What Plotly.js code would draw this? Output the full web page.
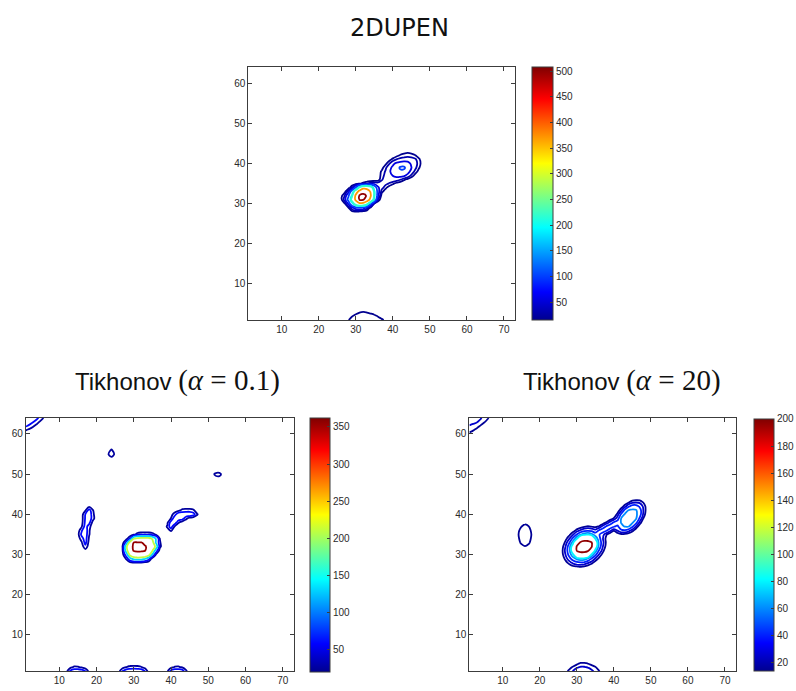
<!DOCTYPE html>
<html>
<head>
<meta charset="utf-8">
<script src="https://cdn.plot.ly/plotly-3.0.1.min.js"></script>
<style>
html, body { margin: 0; padding: 0; background: #fff; }
#chart { width: 796px; height: 691px; }
</style>
</head>
<body>
<div id="chart"></div>
<script>
// ---------------- shared axis data ----------------
const xTickVals = [10, 20, 30, 40, 50, 60, 70];
const yTickVals = [10, 20, 30, 40, 50, 60];
const gridXMax = 73;
const gridYMax = 64;

// ---------------- 2DUPEN (top) ----------------
const upenLevels = [15, 30, 55, 100, 190, 220, 370, 500];
const upenRange = [15, 508];
const upenBarTicks = [50, 100, 150, 200, 250, 300, 350, 400, 450, 500];
// main blob + second blob, x 25..49, rows y 27..44
const upenBlobX0 = 25, upenBlobY0 = 27;
const upenBlobRows = [
  [0,0,0,0,0,0,0,0,0,0,0,0,0,0,0,0,0,0,0,0,0,0,0,0,0],
  [0,0,0,2,10,12,10,6,2,0,0,0,0,0,0,0,0,0,0,0,0,0,0,0,0],
  [0,0,3,14,45,80,90,80,40,8,0,0,0,0,0,0,0,0,0,0,0,0,0,0,0],
  [0,2,12,60,160,280,345,330,250,110,12,0,0,0,0,0,0,0,0,0,0,0,0,0,0],
  [0,8,40,120,260,395,505,508,450,330,170,25,3,0,0,0,0,0,0,0,0,0,0,0,0],
  [0,8,31,90,208,400,512,515,495,380,200,60,5,0,0,0,0,0,0,0,0,0,0,0,0],
  [0,0,8,45,140,300,420,480,440,360,200,70,20,5,0,0,0,0,0,0,0,0,0,0,0],
  [0,0,0,5,31,110,240,330,330,280,150,60,38,20,6,0,0,0,0,0,0,0,0,0,0],
  [0,0,0,0,0,5,12,20,31,40,45,40,40,36,28,18,8,2,0,0,0,0,0,0,0],
  [0,0,0,0,0,0,0,0,0,0,0,5,28,38,42,44,40,31,18,8,0,0,0,0,0],
  [0,0,0,0,0,0,0,0,0,0,0,3,22,36,46,56,64,66,60,45,25,8,0,0,0],
  [0,0,0,0,0,0,0,0,0,0,0,5,18,32,50,66,80,92,88,68,45,25,8,0,0],
  [0,0,0,0,0,0,0,0,0,0,0,0,8,25,45,62,80,106,108,80,56,36,18,2,0],
  [0,0,0,0,0,0,0,0,0,0,0,0,0,10,28,48,62,70,72,66,50,38,24,5,0],
  [0,0,0,0,0,0,0,0,0,0,0,0,0,0,8,20,31,36,40,42,40,34,20,4,0],
  [0,0,0,0,0,0,0,0,0,0,0,0,0,0,0,3,10,18,22,24,22,17,6,0,0],
  [0,0,0,0,0,0,0,0,0,0,0,0,0,0,0,0,0,3,8,10,8,3,0,0,0],
  [0,0,0,0,0,0,0,0,0,0,0,0,0,0,0,0,0,0,0,0,0,0,0,0,0]
];
// weak feature on the bottom edge, x 26..39, rows y 1..4
const upenEdgeX0 = 26, upenEdgeY0 = 1;
const upenEdgeRows = [
  [0,5,14,24,28,29,29,28,26,24,20,18,12,0],
  [0,0,6,14,19,22,23,22,20,18,14,8,3,0],
  [0,0,0,0,10,14,16,14,12,9,5,0,0,0],
  [0,0,0,0,0,0,0,0,0,0,0,0,0,0]
];

// ---------------- Tikhonov alpha = 0.1 (bottom left) ----------------
const tik01Levels = [25, 60, 130, 210, 355];
const tik01Range = [20, 362];
const tik01BarTicks = [50, 100, 150, 200, 250, 300, 350];
const tik01CornerX0 = 1, tik01CornerY0 = 59;
const tik01CornerRows = [
  [0,0,0,0,0,0,0],
  [5,0,0,0,0,0,0],
  [28,15,3,0,0,0,0],
  [65,50,30,10,0,0,0],
  [90,80,62,40,15,0,0],
  [100,95,85,70,45,18,0]
];
const tik01DropX0 = 22, tik01DropY0 = 53;
const tik01DropRows = [
  [0,0,0,0,0],
  [0,3,15,3,0],
  [0,20,45,18,0],
  [0,5,30,5,0],
  [0,0,0,0,0]
];
const tik01DotX0 = 50, tik01DotY0 = 48;
const tik01DotRows = [
  [0,0,0,0,0,0],
  [0,0,10,12,0,0],
  [0,10,35,38,8,0],
  [0,0,0,0,0,0]
];
const tik01StemX0 = 14, tik01StemY0 = 30;
const tik01StemRows = [
  [0,0,0,0,0,0,0],
  [0,0,0,10,0,0,0],
  [0,0,5,50,3,0,0],
  [0,0,20,75,10,0,0],
  [0,3,45,80,20,0,0],
  [0,12,70,85,28,0,0],
  [0,5,55,90,30,0,0],
  [0,0,20,80,40,0,0],
  [0,0,10,70,75,12,0],
  [0,0,8,65,90,40,0],
  [0,0,5,62,95,35,0],
  [0,0,0,20,80,28,0],
  [0,0,0,0,15,8,0],
  [0,0,0,0,0,0,0]
];
const tik01CoreX0 = 26, tik01CoreY0 = 27;
const tik01CoreRows = [
  [0,0,0,0,0,0,0,0,0,0,0,0,0],
  [0,0,3,12,22,24,20,10,3,0,0,0,0],
  [0,0,30,110,160,170,165,140,80,5,0,0,0],
  [0,10,90,240,305,318,315,300,250,120,15,0,0],
  [0,22,170,310,362,368,366,360,310,215,90,8,0],
  [0,26,190,330,365,372,370,365,330,280,180,35,0],
  [0,5,80,250,358,362,360,330,300,240,120,30,0],
  [0,0,8,58,200,230,240,240,235,200,120,24,0],
  [0,0,0,0,15,40,50,50,50,40,20,0,0],
  [0,0,0,0,0,0,0,0,0,0,0,0,0]
];
const tik01LobeX0 = 38, tik01LobeY0 = 35;
const tik01LobeRows = [
  [0,0,0,0,0,0,0,0,0,0,0],
  [0,12,30,5,0,0,0,0,0,0,0],
  [0,30,85,20,0,0,0,0,0,0,0],
  [0,15,80,90,30,5,0,0,0,0,0],
  [0,0,26,90,95,80,35,10,0,0,0],
  [0,0,10,45,90,95,95,95,80,30,0],
  [0,0,0,5,15,35,40,40,32,5,0],
  [0,0,0,0,0,0,0,0,0,0,0]
];
const tik01EdgeX0 = 11, tik01EdgeY0 = 1;
const tik01EdgeRows = [
  [0,20,70,90,90,85,62,15,0,0,0,0,0,0,0,15,65,90,95,95,95,90,62,10,0,0,0,0,20,75,90,90,85,35,0,0],
  [0,0,15,30,28,20,5,0,0,0,0,0,0,0,0,0,10,26,35,38,35,28,10,0,0,0,0,0,0,15,28,30,20,5,0,0],
  [0,0,0,0,0,0,0,0,0,0,0,0,0,0,0,0,0,0,0,0,0,0,0,0,0,0,0,0,0,0,0,0,0,0,0,0]
];

// ---------------- Tikhonov alpha = 20 (bottom right) ----------------
const tik20Levels = [15, 25, 40, 60, 80, 197];
const tik20Range = [13.6, 200];
const tik20BarTicks = [20, 40, 60, 80, 100, 120, 140, 160, 180, 200];
const tik20CornerX0 = 1, tik20CornerY0 = 58;
const tik20CornerRows = [
  [0,0,0,0,0,0,0,0],
  [5,3,0,0,0,0,0,0],
  [13,10,6,2,0,0,0,0],
  [18,16,12,6,2,0,0,0],
  [24,22,19,14,9,4,0,0],
  [30,28,26,21,16,11,5,0],
  [35,33,30,27,20,16,10,3]
];
const tik20SpotX0 = 13, tik20SpotY0 = 31;
const tik20SpotRows = [
  [0,0,0,0,0,0,0],
  [0,0,7,14,8,0,0],
  [0,4,19,23,19,5,0],
  [0,10,22,24,22,10,0],
  [2,12,23,24,23,12,0],
  [0,9,22,24,22,9,0],
  [0,2,14,22,16,2,0],
  [0,0,3,8,4,0,0]
];
const tik20BlobX0 = 25, tik20BlobY0 = 26;
const tik20BlobRows = [
  [0,0,0,0,1,2,2,1,0,0,0,0,0,0,0,0,0,0,0,0,0,0,0,0,0,0],
  [0,0,3,7,12,14,16,13,9,4,0,0,0,0,0,0,0,0,0,0,0,0,0,0,0,0],
  [0,3,11,20,29,35,37,35,27,19,9,2,0,0,0,0,0,0,0,0,0,0,0,0,0,0],
  [0,7,19,34,50,66,75,71,57,39,24,12,3,0,0,0,0,0,0,0,0,0,0,0,0,0],
  [1,11,26,47,77,143,179,178,138,74,45,24,11,1,0,0,0,0,0,0,0,0,0,0,0,0],
  [2,12,29,54,109,201,208,209,206,159,71,39,19,5,0,0,0,0,0,0,0,0,0,0,0,0],
  [0,10,26,51,103,203,210,212,210,203,103,51,26,10,0,0,0,0,0,0,0,0,0,0,0,0],
  [0,5,19,39,71,159,206,209,208,201,109,54,29,12,2,0,0,0,0,0,0,0,0,0,0,0],
  [0,1,11,24,45,74,138,178,179,143,77,47,26,11,1,0,1,2,1,0,0,0,0,0,0,0],
  [0,0,3,12,24,41,57,71,75,66,50,42,30,16,6,7,8,12,11,7,2,0,0,0,0,0],
  [0,0,0,2,9,19,27,35,37,35,29,42,50,42,30,16,26,36,38,31,19,7,0,0,0,0],
  [0,0,0,0,0,4,9,13,16,14,12,16,30,42,50,42,36,56,61,61,44,23,8,0,0,0],
  [0,0,0,0,0,0,0,1,2,2,1,0,6,16,30,42,50,61,66,67,63,46,21,5,0,0],
  [0,0,0,0,0,0,0,0,0,0,0,0,0,1,6,16,31,61,67,69,68,62,37,14,1,0],
  [0,0,0,0,0,0,0,0,0,0,0,0,0,0,0,3,19,44,63,68,68,64,48,22,5,0],
  [0,0,0,0,0,0,0,0,0,0,0,0,0,0,0,0,7,23,46,62,64,62,48,24,8,0],
  [0,0,0,0,0,0,0,0,0,0,0,0,0,0,0,0,0,8,21,37,48,48,37,22,8,0],
  [0,0,0,0,0,0,0,0,0,0,0,0,0,0,0,0,0,0,5,14,22,24,22,14,4,0],
  [0,0,0,0,0,0,0,0,0,0,0,0,0,0,0,0,0,0,0,1,5,8,8,4,1,0],
  [0,0,0,0,0,0,0,0,0,0,0,0,0,0,0,0,0,0,0,0,0,0,0,0,0,0]
];
const tik20EdgeX0 = 26, tik20EdgeY0 = 1;
const tik20EdgeRows = [
  [5,12,18,26,32,35,35,33,28,22,16,8,0],
  [0,5,11,17,23,26,26,24,20,16,9,3,0],
  [0,0,0,4,10,16,16,14,10,5,0,0,0],
  [0,0,0,0,0,0,0,0,0,0,0,0,0]
];

// ---------------- helpers (styling / table building) ----------------
const JET_STOPS = [
  [0, [0, 0, 143]], [0.111, [0, 0, 255]], [0.365, [0, 255, 255]],
  [0.619, [255, 255, 0]], [0.873, [255, 0, 0]], [1, [128, 0, 0]]
];
const jetScale = JET_STOPS.map(s => [s[0], 'rgb(' + s[1].join(',') + ')']);
function jetColor(v, range) {
  let t = (v - range[0]) / (range[1] - range[0]);
  t = Math.max(0, Math.min(1, t));
  for (let i = 1; i < JET_STOPS.length; i++) {
    const t0 = JET_STOPS[i - 1][0], c0 = JET_STOPS[i - 1][1];
    const t1 = JET_STOPS[i][0], c1 = JET_STOPS[i][1];
    if (t <= t1) {
      const f = (t - t0) / (t1 - t0);
      return 'rgb(' + c0.map((c, k) => Math.round(c + (c1[k] - c) * f)).join(',') + ')';
    }
  }
  return 'rgb(128,0,0)';
}
const gridX = Array.from({length: gridXMax}, (_, i) => i + 1);
const gridY = Array.from({length: gridYMax}, (_, i) => i + 1);
function buildField(windows) {
  const z = [];
  for (let r = 0; r < gridYMax; r++) z.push(new Array(gridXMax).fill(0));
  windows.forEach(w => {
    w.rows.forEach((row, r) => {
      row.forEach((v, c) => { z[w.y0 - 1 + r][w.x0 - 1 + c] = v; });
    });
  });
  return z;
}
function levelTraces(z, levels, range, xa, ya) {
  return levels.map(L => ({
    type: 'contour', x: gridX, y: gridY, z: z, xaxis: xa, yaxis: ya,
    autocontour: false,
    contours: {start: L, end: L, size: 1, coloring: 'none'},
    line: {color: jetColor(L, range), width: 1.8, smoothing: 1},
    showscale: false, hoverinfo: 'skip', showlegend: false
  }));
}
function barTrace(range, xa, ya, ca) {
  return {
    type: 'scatter', mode: 'markers', x: [null], y: [null], xaxis: xa, yaxis: ya,
    marker: {color: [range[0]], coloraxis: ca, size: 1},
    hoverinfo: 'skip', showlegend: false
  };
}

const upenZ = buildField([
  {x0: upenBlobX0, y0: upenBlobY0, rows: upenBlobRows},
  {x0: upenEdgeX0, y0: upenEdgeY0, rows: upenEdgeRows}
]);
const tik01Z = buildField([
  {x0: tik01CornerX0, y0: tik01CornerY0, rows: tik01CornerRows},
  {x0: tik01DropX0, y0: tik01DropY0, rows: tik01DropRows},
  {x0: tik01DotX0, y0: tik01DotY0, rows: tik01DotRows},
  {x0: tik01StemX0, y0: tik01StemY0, rows: tik01StemRows},
  {x0: tik01CoreX0, y0: tik01CoreY0, rows: tik01CoreRows},
  {x0: tik01LobeX0, y0: tik01LobeY0, rows: tik01LobeRows},
  {x0: tik01EdgeX0, y0: tik01EdgeY0, rows: tik01EdgeRows}
]);
const tik20Z = buildField([
  {x0: tik20CornerX0, y0: tik20CornerY0, rows: tik20CornerRows},
  {x0: tik20SpotX0, y0: tik20SpotY0, rows: tik20SpotRows},
  {x0: tik20BlobX0, y0: tik20BlobY0, rows: tik20BlobRows},
  {x0: tik20EdgeX0, y0: tik20EdgeY0, rows: tik20EdgeRows}
]);

const traces = []
  .concat(levelTraces(upenZ, upenLevels, upenRange, 'x', 'y'))
  .concat(levelTraces(tik01Z, tik01Levels, tik01Range, 'x2', 'y2'))
  .concat(levelTraces(tik20Z, tik20Levels, tik20Range, 'x3', 'y3'))
  .concat([
    barTrace(upenRange, 'x', 'y', 'coloraxis'),
    barTrace(tik01Range, 'x2', 'y2', 'coloraxis2'),
    barTrace(tik20Range, 'x3', 'y3', 'coloraxis3')
  ]);

const AX_COLOR = '#3c3c3c';
const tickFont = {family: 'Liberation Sans, Arial, sans-serif', size: 10, color: '#2a2a2a'};
function xAxis(domain, anchor) {
  return {
    domain: domain, anchor: anchor, range: [1, gridXMax], autorange: false,
    tickmode: 'array', tickvals: xTickVals, ticks: 'inside', ticklen: 4, tickwidth: 1,
    tickcolor: AX_COLOR, showline: true, linecolor: AX_COLOR, linewidth: 1, mirror: 'ticks',
    showgrid: false, zeroline: false, tickfont: tickFont, fixedrange: true
  };
}
function yAxis(domain, anchor) {
  return {
    domain: domain, anchor: anchor, range: [1, gridYMax], autorange: false,
    tickmode: 'array', tickvals: yTickVals, ticks: 'inside', ticklen: 4, tickwidth: 1,
    tickcolor: AX_COLOR, showline: true, linecolor: AX_COLOR, linewidth: 1, mirror: 'ticks',
    showgrid: false, zeroline: false, tickfont: tickFont, fixedrange: true
  };
}
function colorAxis(range, ticks, xLeft, yMid, len, thick) {
  return {
    cmin: range[0], cmax: range[1], colorscale: jetScale, showscale: true,
    colorbar: {
      x: xLeft, xanchor: 'left', y: yMid, yanchor: 'middle',
      len: len, lenmode: 'fraction', thickness: thick, thicknessmode: 'pixels',
      xpad: 0, ypad: 0, outlinewidth: 1, outlinecolor: AX_COLOR, borderwidth: 0,
      tickmode: 'array', tickvals: ticks, ticks: 'inside', ticklen: 3,
      tickcolor: AX_COLOR, tickfont: tickFont
    }
  };
}

const layout = {
  width: 796, height: 691,
  margin: {l: 0, r: 0, t: 0, b: 0, autoexpand: false},
  paper_bgcolor: '#ffffff', plot_bgcolor: '#ffffff',
  showlegend: false,
  xaxis: xAxis([0.3121, 0.6471], 'y'),
  yaxis: yAxis([0.5368, 0.9027], 'x'),
  xaxis2: xAxis([0.0324, 0.3692], 'y2'),
  yaxis2: yAxis([0.0287, 0.3952], 'x2'),
  xaxis3: xAxis([0.5897, 0.9247], 'y3'),
  yaxis3: yAxis([0.0287, 0.3952], 'x3'),
  coloraxis: colorAxis(upenRange, upenBarTicks, 0.6683, 0.7200, 0.3661, 21),
  coloraxis2: colorAxis(tik01Range, tik01BarTicks, 0.3894, 0.2113, 0.3676, 20),
  coloraxis3: colorAxis(tik20Range, tik20BarTicks, 0.9472, 0.2113, 0.3647, 20),
  annotations: [
    {xref: 'paper', yref: 'paper', x: 0.5025, y: 0.9595, xanchor: 'center', yanchor: 'middle',
     showarrow: false, text: '2DUPEN',
     font: {family: 'DejaVu Sans, sans-serif', size: 24, color: '#111'}},
    {xref: 'paper', yref: 'paper', x: 0.2236, y: 0.450, xanchor: 'center', yanchor: 'middle',
     showarrow: false,
     text: 'Tikhonov <span style="font-family:Liberation Serif;font-size:29px">(<i>α</i> = 0.1)</span>',
     font: {family: 'Liberation Sans, Arial, sans-serif', size: 24, color: '#111'}},
    {xref: 'paper', yref: 'paper', x: 0.7814, y: 0.450, xanchor: 'center', yanchor: 'middle',
     showarrow: false,
     text: 'Tikhonov <span style="font-family:Liberation Serif;font-size:29px">(<i>α</i> = 20)</span>',
     font: {family: 'Liberation Sans, Arial, sans-serif', size: 24, color: '#111'}}
  ]
};

Plotly.newPlot('chart', traces, layout, {staticPlot: true, displayModeBar: false});
</script>
</body>
</html>
